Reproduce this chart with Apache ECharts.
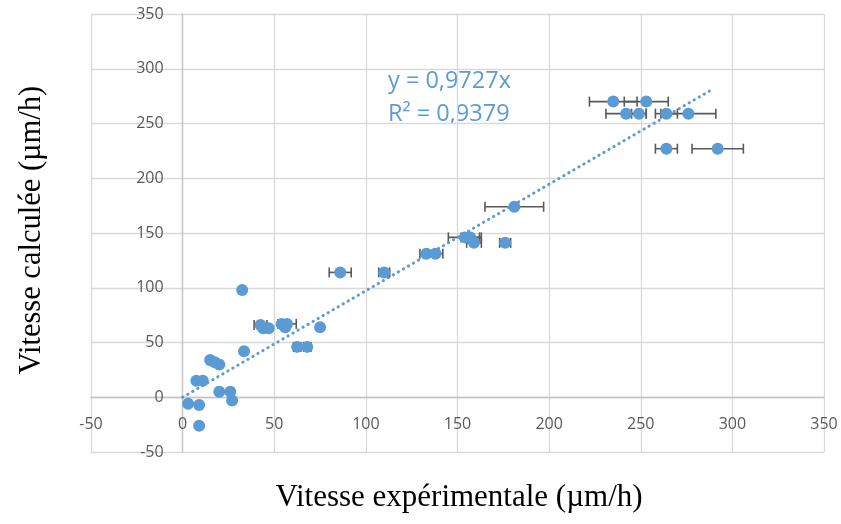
<!DOCTYPE html>
<html>
<head>
<meta charset="utf-8">
<script src="https://cdn.jsdelivr.net/npm/echarts@6/dist/echarts.min.js"></script>
<style>html,body{margin:0;padding:0;background:#fff}#c{width:841px;height:524px}</style>
</head>
<body>
<div id="c"></div>
<script>
// Data
const xExp  = [235, 253, 242, 249, 264, 276, 264, 292, 181, 154, 157, 159, 176, 133, 138, 86, 110, 32.5, 42.5, 44, 47, 54, 57, 56, 75, 62.5, 68, 33.5, 15, 17.5, 20, 7.5, 11, 20, 26, 27, 3, 9, 9];
const yCalc = [270, 270, 259, 259, 259, 259, 227, 227, 174, 146, 146, 141, 141, 131, 131, 114, 114, 98, 66, 63, 63, 67, 67, 64, 64, 46, 46, 42, 34, 32, 30, 15, 15, 5, 5, -3, -6, -7, -26];
const xErr  = [13, 12, 11, 4, 6, 15, 6, 14, 16, 9, 5, 4, 3, 3.5, 4, 6, 3, 0, 3.5, 0, 0, 0, 5, 0, 0, 2, 2, 0, 0, 0, 0, 0, 0, 1, 0, 1, 0, 0, 0];
const trendX = [0, 290];
const trendY = [0, 282.1];
const axisTicks = [-50, 350, 50]; // min, max, interval
const eqText = ['y = 0,9727x', 'R² = 0,9379'];
const xTitle = 'Vitesse expérimentale (µm/h)';
const yTitle = 'Vitesse calculée (µm/h)';

const blue = '#5B9BD5';
const pts = xExp.map((x, i) => [x, yCalc[i], xErr[i]]);
const trend = trendX.map((x, i) => [x, trendY[i]]);

const G = {left: 91, right: 17, top: 14, bottom: 72};
const plotW = 841 - G.left - G.right, plotH = 524 - G.top - G.bottom;
const span = axisTicks[1] - axisTicks[0];
// shift each axis from the plot edge to the zero crossing of the other axis
const xAxisOffset = -plotH * (0 - axisTicks[0]) / span;
const yAxisOffset = -plotW * (0 - axisTicks[0]) / span;

const chart = echarts.init(document.getElementById('c'), null, {renderer: 'canvas'});
function axis(offset) {
  return {
    type: 'value',
    min: axisTicks[0], max: axisTicks[1], interval: axisTicks[2],
    offset: offset,
    axisLine: {show: true, onZero: false, lineStyle: {color: '#c4c4c4', width: 1.3}},
    axisTick: {show: false},
    splitLine: {show: true, lineStyle: {color: '#d9d9d9', width: 1.3}},
    axisLabel: {color: '#595959', fontFamily: 'Open Sans', fontSize: 16, margin: 19}
  };
}
chart.setOption({
  animation: false,
  grid: Object.assign({containLabel: false}, G),
  xAxis: axis(xAxisOffset),
  yAxis: axis(yAxisOffset),
  graphic: [
    {type: 'text', left: 388, top: 69, style: {text: eqText[0], fill: blue, font: '23.5px "Open Sans"'}},
    {type: 'text', left: 388, top: 102, style: {text: eqText[1], fill: blue, font: '23.5px "Open Sans"'}},
    {type: 'text', x: 459, y: 498, style: {text: xTitle, fill: '#000', font: '31px "Liberation Serif"', align: 'center', verticalAlign: 'middle'}},
    {type: 'text', x: 32, y: 230, rotation: Math.PI / 2, style: {text: yTitle, fill: '#000', font: '30.5px "Liberation Serif"', align: 'center', verticalAlign: 'middle'}}
  ],
  series: [
    {
      type: 'custom',
      z: 2,
      data: pts,
      renderItem: function (params, api) {
        const x = api.value(0), y = api.value(1), e = api.value(2);
        if (!e) return null;
        const a = api.coord([x - e, y]);
        const b = api.coord([x + e, y]);
        const s = {stroke: '#595959', lineWidth: 1.6};
        const h = 5;
        return {type: 'group', children: [
          {type: 'line', shape: {x1: a[0], y1: a[1], x2: b[0], y2: b[1]}, style: s},
          {type: 'line', shape: {x1: a[0], y1: a[1] - h, x2: a[0], y2: a[1] + h}, style: s},
          {type: 'line', shape: {x1: b[0], y1: b[1] - h, x2: b[0], y2: b[1] + h}, style: s}
        ]};
      }
    },
    {
      type: 'line',
      z: 3,
      data: trend,
      symbol: 'none',
      lineStyle: {color: blue, width: 3, type: [0.3, 5.5], cap: 'round'}
    },
    {
      type: 'scatter',
      z: 4,
      data: pts.map(p => [p[0], p[1]]),
      symbol: 'circle',
      symbolSize: 12,
      itemStyle: {color: blue, opacity: 1}
    }
  ]
});
</script>
</body>
</html>
